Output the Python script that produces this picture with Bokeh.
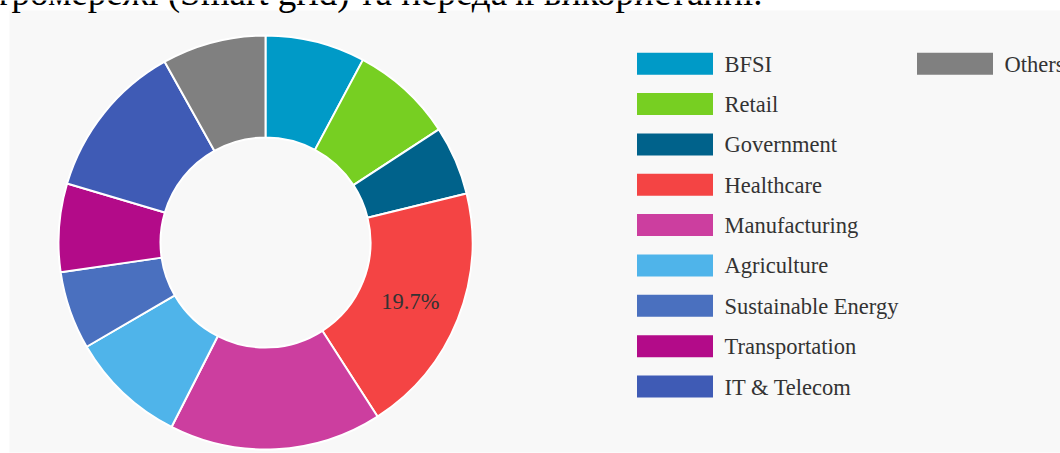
import math
from bokeh.plotting import figure
from bokeh.models import Range1d, ColumnDataSource
from bokeh.core.properties import value
from bokeh.embed import file_html
from bokeh.resources import INLINE

categories = ["BFSI", "Retail", "Government", "Healthcare", "Manufacturing",
              "Agriculture", "Sustainable Energy", "Transportation", "IT & Telecom", "Others"]
shares = [7.8, 8.0, 5.4, 19.7, 16.6, 9.1, 6.1, 6.9, 12.3, 8.1]
colors = ["#009ac7", "#77cf22", "#00628b", "#f44444", "#cc3e9f",
          "#4fb4ea", "#4a70bf", "#b30b89", "#3f5bb5", "#808080"]
labelled = ["Healthcare"]
top_line = "електромережі (Smart grid) та передачі використанні."

FONT = "Liberation Serif"
W, H = 1060, 453
p = figure(width=W, height=H, output_backend="svg", toolbar_location=None,
           min_border=0, x_range=Range1d(0, W), y_range=Range1d(0, H),
           background_fill_color="white", border_fill_color="white",
           outline_line_color=None)
p.axis.visible = False
p.grid.visible = False


def Y(page_y):
    return H - page_y


# grey chart panel
p.quad(left=9, right=1060, bottom=Y(452), top=Y(10), fill_color="#f8f8f8", line_color=None)

# cropped line of document text above the chart (cut off at the top, as in the source)
p.text(x=[762], y=[Y(-8.5)], text=[top_line], text_align="right", text_baseline="alphabetic",
       text_font=value(FONT), text_font_size="37px", text_color="#000000")

cx, cy = 265, Y(242)
r_out, r_in = 207, 105

total = sum(shares)
starts, ends, mids = [], [], []
cum = 0.0
for s in shares:
    a0 = math.pi / 2 - 2 * math.pi * cum / total
    cum += s
    a1 = math.pi / 2 - 2 * math.pi * cum / total
    starts.append(a0)
    ends.append(a1)
    mids.append((a0 + a1) / 2)

src = ColumnDataSource(dict(start=starts, end=ends, color=colors, cat=categories))
p.annular_wedge(x=cx, y=cy, inner_radius=r_in, outer_radius=r_out,
                start_angle="start", end_angle="end", direction="clock",
                fill_color="color", line_color="white", line_width=2, source=src)

# percentage labels
rm = (r_in + r_out) / 2
lx, ly, lt = [], [], []
for c, s, m in zip(categories, shares, mids):
    if c in labelled:
        lx.append(cx + rm * math.cos(m))
        ly.append(cy + rm * math.sin(m) - 1)
        lt.append(f"{s:.1f}%")
p.text(x=lx, y=ly, text=lt, text_align="center", text_baseline="middle",
       text_font=value(FONT), text_font_size="22.5px", text_color="#333333")

# legend (two columns: 9 rows, then Others)
bx, by = [], []
tx, ty = [], []
for i, c in enumerate(categories):
    col, row = divmod(i, 9)
    x0 = 674.5 + col * 280
    y0 = 63.2 + row * 40.35
    bx.append(x0)
    by.append(Y(y0))
    tx.append(x0 + 49.5)
    ty.append(Y(y0 + 0.5))
p.rect(x=bx, y=by, width=76, height=22, fill_color=colors, line_color=None)
p.text(x=tx, y=ty, text=categories, text_align="left", text_baseline="middle",
       text_font=value(FONT), text_font_size="22.5px", text_color="#333333")

open("out.html", "w").write(file_html(p, INLINE))
